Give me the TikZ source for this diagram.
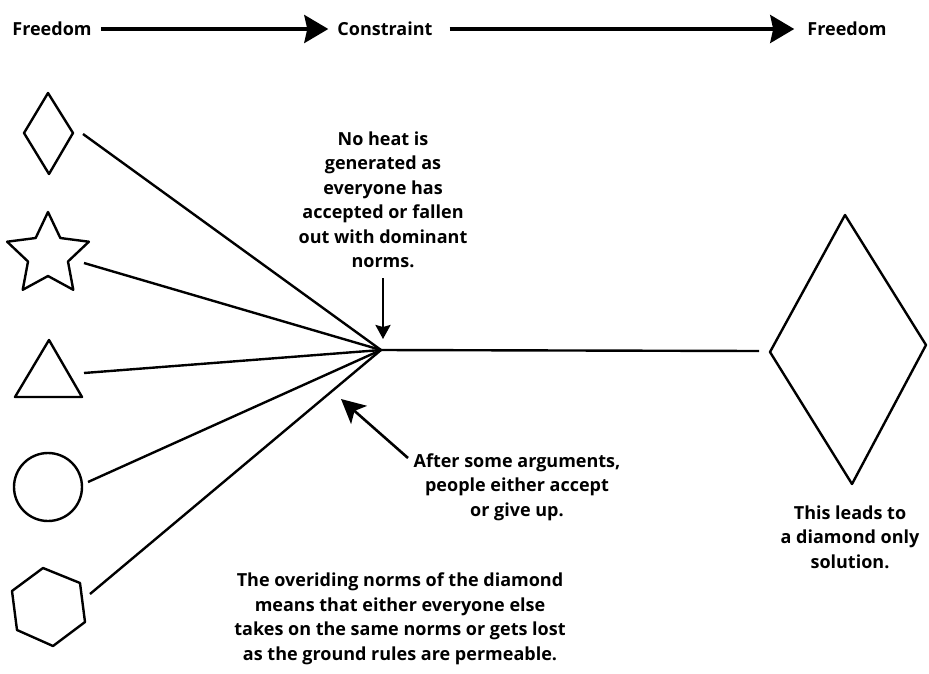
\documentclass[tikz,border=0pt]{standalone}
\usepackage{fontspec}
\setmainfont{Open Sans}
\usetikzlibrary{arrows.meta}
\begin{document}
\begin{tikzpicture}[x=1pt,y=-1pt,
  outline/.style={line width=2.4pt, line join=round},
  spoke/.style={line width=2.4pt},
  bigarrow/.style={line width=3.4pt, -{Stealth[length=24pt,width=28pt,inset=3pt]}},
  smallarrow/.style={line width=2.4pt, -{Stealth[length=14pt,width=15pt,inset=2pt]}},
  midarrow/.style={line width=2.6pt, -{Stealth[length=24pt,width=24pt,inset=6pt]}},
  lbl/.style={font=\bfseries\fontsize{18}{24.5}\selectfont, align=center, inner sep=0pt},
  toplbl/.style={font=\bfseries\fontsize{18}{20}\selectfont, inner sep=0pt}]
\fill[white] (0,0) rectangle (929,673);
\useasboundingbox (0,0) rectangle (929,673);

% top row
\node[toplbl] (fr1) at (52,29) {Freedom};
\node[toplbl] (con) at (385,29) {Constraint};
\node[toplbl] (fr2) at (847,29) {Freedom};
\draw[bigarrow, shorten <=9pt, shorten >=9pt] (fr1.east) -- (con.west);
\draw[bigarrow, shorten <=17pt, shorten >=13pt] (con.east) -- (fr2.west);

% left shapes
\draw[outline] (48,93) -- (73,133) -- (49,174) -- (24,133) -- cycle;
\draw[outline] plot[samples at={0,...,9}]
  ({48+(iseven(\x)?43:21)*cos(-90+36*\x)}, {255+(iseven(\x)?43:21)*sin(-90+36*\x)}) -- cycle;
\draw[outline] (15,397) -- (82,397) -- (49,340) -- cycle;
\draw[outline] (48,487) circle[radius=34];
\draw[outline] (43,568) -- (80,583) -- (85,622) -- (53,646) -- (17,630) -- (12,591) -- cycle;

% spoke coordinates
\coordinate (s1) at (83,134);
\coordinate (s2) at (84,263);
\coordinate (s3) at (84,373);
\coordinate (s4) at (88,482);
\coordinate (s5) at (90,594);
\coordinate (f) at (381,350);
\coordinate (e) at (759,351);

\foreach \s in {s1,s2,s3,s4,s5} \draw[spoke] (\s) -- (f);
\draw[spoke] (f) -- (e);

% big diamond
\draw[outline] (845,215) -- (926,345) -- (852,484) -- (770,352) -- cycle;

% labels
\node[lbl] (noheat) at (383,200) {No heat is\\generated as\\everyone has\\accepted or fallen\\out with dominant\\norms.};
\draw[smallarrow, shorten <=10pt, shorten >=11pt] (noheat.south) -- (noheat.south |- f);

\node[lbl] (after) at (517,487) {After some arguments,\\people either accept\\or give up.};
\coordinate (at) at (408,458);
\coordinate (ah) at (341,399);
\draw[midarrow] (at) -- (ah);

\node[lbl] (over) at (400,619) {The overiding norms of the diamond\\means that either everyone else\\takes on the same norms or gets lost\\as the ground rules are permeable.};

\node[lbl] (leads) at (850,537) {This leads to\\a diamond only\\solution.};
\end{tikzpicture}
\end{document}
